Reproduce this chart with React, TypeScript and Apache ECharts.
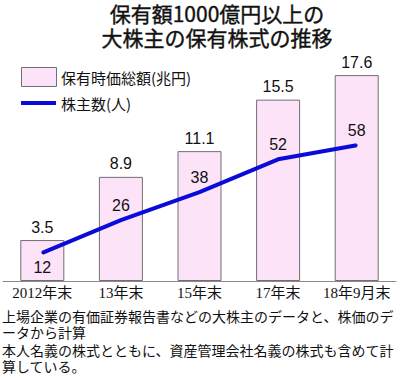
import React, { useEffect, useRef } from "react";
import * as echarts from "echarts";

const titleLines = ["保有額1000億円以上の", "大株主の保有株式の推移"];
const categories = ["2012年末", "13年末", "15年末", "17年末", "18年9月末"];
const marketValue = [3.5, 8.9, 11.1, 15.5, 17.6];
const shareholders = [12, 26, 38, 52, 58];
const legendNames = ["保有時価総額(兆円)", "株主数(人)"];
const footnotes = [
  "上場企業の有価証券報告書などの大株主のデータと、株価のデ",
  "ータから計算",
  "本人名義の株式とともに、資産管理会社名義の株式も含めて計",
  "算している。",
];

const BAR_FILL = "#fde3f8";
const BAR_BORDER = "#707070";
const LINE_COLOR = "#0b0bd8";
const SANS = "'Noto Sans CJK JP', 'Liberation Sans', sans-serif";
const NUM = "'Liberation Sans', 'Noto Sans CJK JP', sans-serif";
const SERIF = "'Liberation Serif', 'DejaVu Serif', 'Noto Sans CJK JP', serif";

export default function App() {
  const ref = useRef<HTMLDivElement>(null);
  useEffect(() => {
    document.body.style.margin = "0";
    const chart = echarts.init(ref.current!, null, { renderer: "svg" });
    const footY = [317, 333, 351, 367];
    const titleY = [13, 37];
    chart.setOption({
      animation: false,
      grid: { left: 3, right: 4, top: 47, bottom: 99, containLabel: false },
      xAxis: {
        type: "category",
        data: categories,
        axisLine: { lineStyle: { color: "#8a8a8a", width: 1 } },
        axisTick: { show: false },
        axisLabel: { interval: 0, fontFamily: SERIF, fontSize: 15, color: "#111", margin: 4 },
      },
      yAxis: [
        { type: "value", min: 0, max: 20, show: false, splitLine: { show: false } },
        { type: "value", min: 0, max: 100, show: false, splitLine: { show: false } },
      ],
      series: [
        {
          type: "bar",
          name: legendNames[0],
          data: marketValue,
          barWidth: 44,
          itemStyle: { color: BAR_FILL, borderColor: BAR_BORDER, borderWidth: 1 },
          label: {
            show: true,
            position: "top",
            distance: 5,
            fontFamily: NUM,
            fontSize: 16,
            color: "#111",
          },
        },
        {
          type: "line",
          name: legendNames[1],
          yAxisIndex: 1,
          data: shareholders.map((v, i) => ({
            value: v,
            label: { show: true, position: i === 0 ? "bottom" : "top" },
          })),
          showSymbol: true,
          symbol: "circle",
          symbolSize: 2,
          itemStyle: { color: LINE_COLOR },
          lineStyle: { color: LINE_COLOR, width: 4 },
          label: {
            show: true,
            position: "top",
            distance: 6,
            fontFamily: NUM,
            fontSize: 16,
            color: "#111",
          },
          z: 5,
        },
      ],
      graphic: [
        ...titleLines.map((t, i) => ({
          type: "text",
          style: {
            text: t,
            x: 217,
            y: titleY[i],
            textAlign: "center",
            textVerticalAlign: "middle",
            fontFamily: SANS,
            fontSize: 21,
            fontWeight: "normal",
            fill: "#111",
            stroke: "#111",
            lineWidth: 0.4,
          },
        })),
        {
          type: "rect",
          shape: { x: 21.5, y: 67.5, width: 35, height: 19 },
          style: { fill: BAR_FILL, stroke: BAR_BORDER, lineWidth: 1 },
        },
        {
          type: "text",
          style: {
            text: legendNames[0],
            x: 61,
            y: 77,
            textVerticalAlign: "middle",
            fontFamily: SANS,
            fontSize: 15,
            fill: "#111",
          },
        },
        {
          type: "line",
          shape: { x1: 21, y1: 103, x2: 56, y2: 103 },
          style: { stroke: LINE_COLOR, lineWidth: 4 },
        },
        {
          type: "text",
          style: {
            text: legendNames[1],
            x: 61,
            y: 103,
            textVerticalAlign: "middle",
            fontFamily: SANS,
            fontSize: 15,
            fill: "#111",
          },
        },
        ...footnotes.map((t, i) => ({
          type: "text",
          style: {
            text: t,
            x: 2,
            y: footY[i],
            textVerticalAlign: "middle",
            fontFamily: SERIF,
            fontSize: 14,
            fill: "#111",
          },
        })),
      ],
    });
    return () => chart.dispose();
  }, []);
  return <div ref={ref} style={{ width: 400, height: 380 }} />;
}
